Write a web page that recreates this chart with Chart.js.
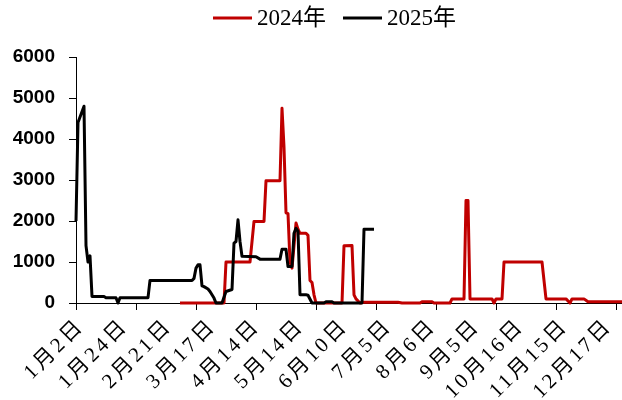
<!DOCTYPE html>
<html>
<head>
<meta charset="utf-8">
<script src="https://cdn.jsdelivr.net/npm/chart.js@4/dist/chart.umd.min.js"></script>
<style>
  html, body { margin: 0; padding: 0; background: #fff; }
  #wrap { width: 622px; height: 400px; position: relative; }
</style>
</head>
<body>
<div id="wrap"><canvas id="c"></canvas></div>
<script>
// category labels shown on the x axis, one every 22 days of data
var dateLabels = ['1月2日', '1月24日', '2月21日', '3月17日', '4月14日', '5月14日', '6月10日',
    '7月5日', '8月6日', '9月5日', '10月16日', '11月15日', '12月17日'];
var labelEvery = 22;
var tickEvery = 30;
var lastDay = 273;

var seriesNames = ['2024年', '2025年'];

// 2024: day index / value
var days2024 = [52, 74, 75, 87, 89, 94, 95, 102, 103, 104, 105, 106, 107, 108, 110, 111, 112, 115, 116, 117, 118, 119, 120,
    133, 134, 138, 139, 140, 142, 144, 161, 163, 172, 173, 178, 179, 187, 188, 194, 195, 196, 197,
    208, 209, 210, 213, 214, 233, 235, 245, 247, 248, 254, 256, 273];
var vals2024 = [0, 0, 1000, 1000, 1990, 1990, 2980, 2980, 4750, 3800, 2200, 2180, 1000, 850, 1950, 1800, 1700, 1700, 1650, 550, 500, 200, 0,
    0, 1395, 1400, 200, 100, 0, 20, 20, 0, 0, 30, 30, 0, 0, 100, 100, 2500, 2500, 100,
    100, 0, 100, 100, 1000, 1000, 100, 100, 0, 100, 100, 30, 30];

// 2025: day index / value
var days2025 = [0, 1, 4, 5, 6, 7, 8, 14, 15, 20, 21, 22, 36, 37, 58, 59, 60, 61, 62, 63, 64, 66, 67, 69, 70, 73, 75, 78,
    79, 80, 81, 82, 83, 90, 92, 102, 103, 105, 106, 108, 109, 110, 111, 112, 115, 116, 118,
    124, 125, 128, 129, 143, 144, 149];
var vals2025 = [2000, 4400, 4800, 1400, 1000, 1150, 160, 160, 130, 130, 0, 130, 130, 550, 550, 600, 850, 930, 930, 420, 400, 340, 280, 120, 0, 0, 280, 330,
    1460, 1500, 2030, 1500, 1140, 1130, 1070, 1070, 1310, 1310, 890, 890, 1700, 1820, 1750, 200, 200, 190, 0,
    0, 30, 30, 0, 0, 1800, 1800];

var red = '#c00000';
var black = '#000000';

function points(days, vals) {
    return days.map(function (d, i) { return { x: d, y: vals[i] }; });
}

// legend drawn by hand: short line then label
var lineLegend = {
    id: 'lineLegend',
    afterDraw: function (chart) {
        var ctx = chart.ctx;
        var x = 213, y = 18;
        ctx.save();
        ctx.font = '23px "Liberation Serif", "Noto Sans CJK SC", serif';
        ctx.textBaseline = 'middle';
        ctx.textAlign = 'left';
        chart.data.datasets.forEach(function (ds) {
            ctx.strokeStyle = ds.borderColor;
            ctx.lineWidth = 3;
            ctx.beginPath();
            ctx.moveTo(x, y);
            ctx.lineTo(x + 39, y);
            ctx.stroke();
            ctx.fillStyle = '#000';
            ctx.fillText(ds.label, x + 44, y + 1);
            x += 44 + ctx.measureText(ds.label).width + 17;
        });
        ctx.restore();
    }
};

// rotated date labels, spaced like the original
var dateAxisLabels = {
    id: 'dateAxisLabels',
    afterDraw: function (chart) {
        var ctx = chart.ctx;
        var xs = chart.scales.x;
        ctx.save();
        ctx.font = '21px "Liberation Serif", "Noto Sans CJK SC", serif';
        ctx.letterSpacing = '3px';
        ctx.fillStyle = '#000';
        ctx.textAlign = 'right';
        ctx.textBaseline = 'middle';
        dateLabels.forEach(function (lab, i) {
            var px = xs.getPixelForValue(i * labelEvery);
            ctx.save();
            ctx.translate(px + 5, 323);
            ctx.rotate(-Math.PI / 4);
            ctx.fillText(lab, 0, 0);
            ctx.restore();
        });
        ctx.restore();
    }
};

new Chart(document.getElementById('c').getContext('2d'), {
    type: 'line',
    data: {
        datasets: [
            { label: seriesNames[0], data: points(days2024, vals2024), borderColor: red, backgroundColor: red, order: 2 },
            { label: seriesNames[1], data: points(days2025, vals2025), borderColor: black, backgroundColor: black, order: 1 }
        ]
    },
    options: {
        responsive: true,
        maintainAspectRatio: false,
        animation: false,
        layout: { padding: { top: 57, right: 0, bottom: 90, left: 0 } },
        elements: {
            line: { borderWidth: 3, tension: 0, borderJoinStyle: 'round', borderCapStyle: 'butt' },
            point: { radius: 0 }
        },
        datasets: { line: { clip: false } },
        plugins: { legend: { display: false }, tooltip: { enabled: false } },
        scales: {
            x: {
                type: 'linear',
                min: 0,
                max: lastDay,
                border: { display: true, color: '#000', width: 1 },
                grid: { drawOnChartArea: false, drawTicks: true, tickLength: 7, color: '#000' },
                ticks: { display: false, stepSize: tickEvery, includeBounds: false }
            },
            y: {
                min: 0,
                max: 6000,
                afterFit: function (s) { s.width = 76; },
                border: { display: true, color: '#000', width: 1 },
                grid: { drawOnChartArea: false, drawTicks: true, tickLength: 7, color: '#000' },
                ticks: {
                    stepSize: 1000,
                    padding: 14,
                    color: '#000',
                    font: { family: '"Liberation Sans", Arial, sans-serif', size: 19, weight: 'bold' },
                    callback: function (v) { return String(v); }
                }
            }
        }
    },
    plugins: [lineLegend, dateAxisLabels]
});
</script>
</body>
</html>
